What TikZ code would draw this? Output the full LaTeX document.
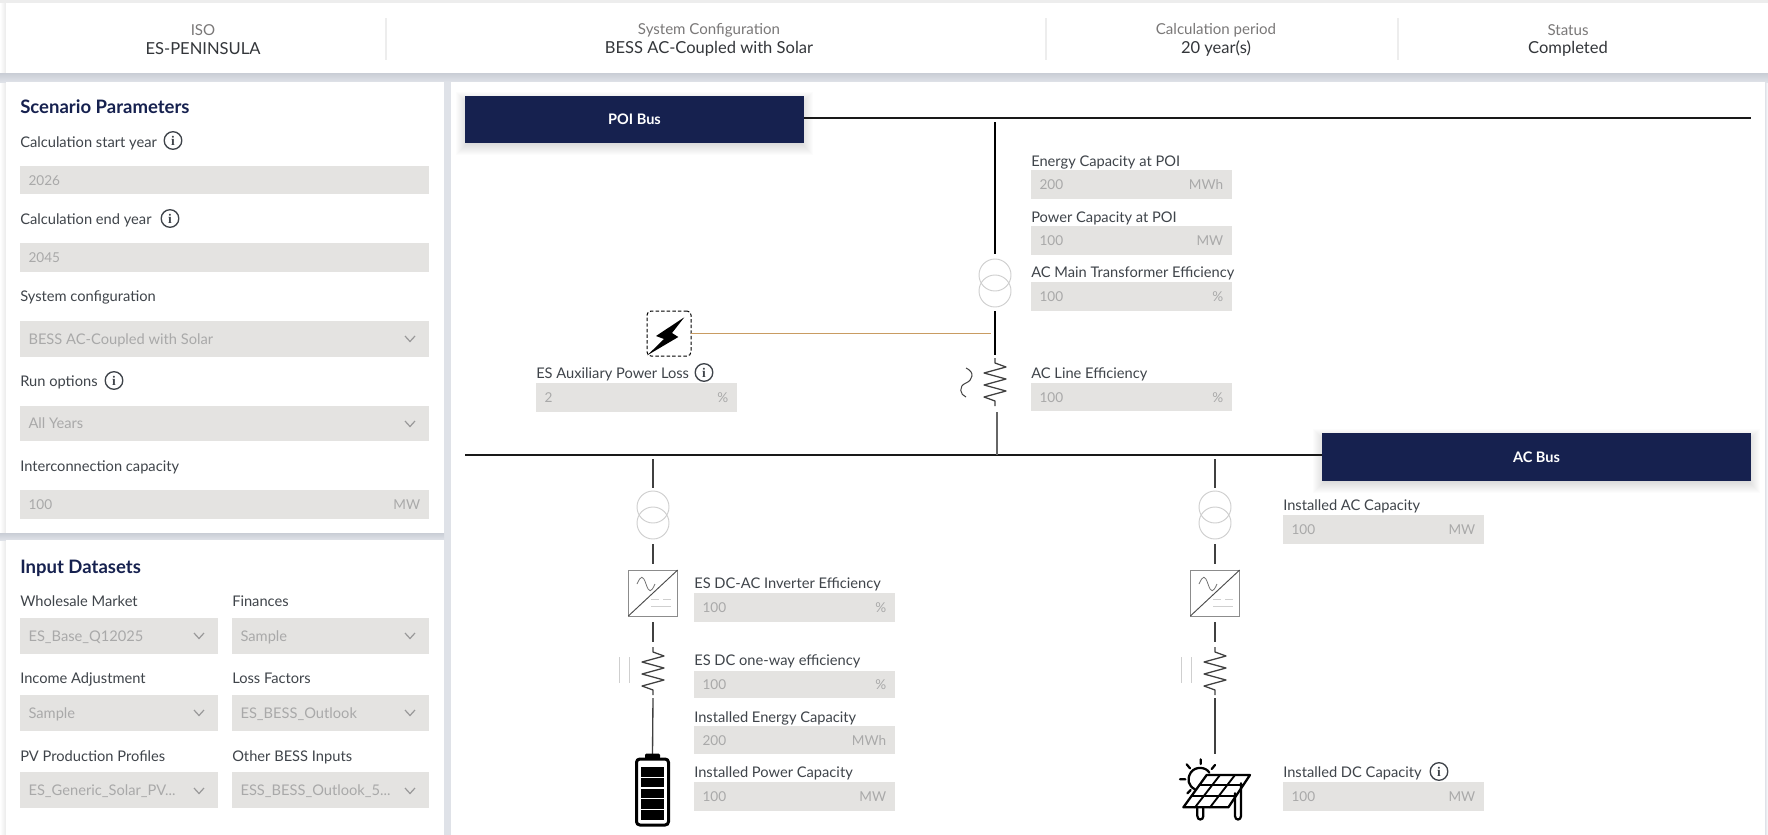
\documentclass[tikz,border=0pt]{standalone}
\usepackage{fontspec}
\setmainfont{Lato}
\definecolor{navy}{HTML}{16214F}
\definecolor{fieldbg}{HTML}{E4E3E1}
\definecolor{fieldfg}{HTML}{A9A9A9}
\definecolor{labelfg}{HTML}{3F444A}
\definecolor{headfg}{HTML}{7A7878}
\definecolor{valfg}{HTML}{33363A}
\definecolor{gapbg}{HTML}{DFE2E8}
\definecolor{shadowbg}{HTML}{C9CDD5}
\definecolor{sepc}{HTML}{EDEDED}
\definecolor{txc}{HTML}{CFCFCF}
\definecolor{auxc}{HTML}{C99C62}
\definecolor{wirec}{HTML}{404040}
\tikzset{
  x=0.75pt,y=-0.75pt,
  fieldstyle/.style={fill=fieldbg,draw=none,inner sep=0pt,outer sep=0pt},
  fieldtxt/.style={font=\fontsize{10.2pt}{12pt}\selectfont,text=fieldfg,inner sep=0pt,text height=7.6pt,text depth=0pt},
  droptxt/.style={fieldtxt,font=\fontsize{11pt}{12pt}\selectfont},
  lblstyle/.style={font=\fontsize{11pt}{13pt}\selectfont,text=labelfg,inner sep=0pt,anchor=west,text height=8.2pt,text depth=2.2pt},
  titlestyle/.style={font=\fontsize{13.9pt}{15pt}\selectfont\bfseries,text=navy,inner sep=0pt,anchor=west,text height=9.6pt,text depth=0pt},
  headlbl/.style={font=\fontsize{11.3pt}{13pt}\selectfont,text=headfg,inner sep=0pt},
  headval/.style={font=\fontsize{12.4pt}{14pt}\selectfont,text=valfg,inner sep=0pt},
  busstyle/.style={fill=navy,text=white,inner sep=0pt,outer sep=0pt,font=\fontsize{10.9pt}{13pt}\selectfont\bfseries},
  infostyle/.style={circle,draw=labelfg,line width=1pt,minimum size=13.2pt,inner sep=0pt,text=labelfg,font=\fontsize{10pt}{10pt}\selectfont\bfseries},
  txcircle/.style={circle,draw=txc,line width=0.7pt,minimum size=24pt,inner sep=0pt,outer sep=0pt},
  wire/.style={draw=wirec,line width=0.8pt},
  buswire/.style={draw=black!90,line width=1.5pt},
  symline/.style={draw=black!75,line width=0.95pt},
  lightline/.style={draw=txc,line width=0.75pt},
  chevstyle/.style={draw=black!40,line width=0.9pt},
  solarline/.style={draw=black,line width=1.7pt,line cap=round,line join=round},
  solarthin/.style={solarline,line width=1.4pt},
}
\newfontfamily\serifinfo{Liberation Serif}
\newcommand{\softshadow}[4]{%
  \foreach \sh in {1,...,12}{\fill[black,opacity=0.011] ({#1-\sh+3},{#2-\sh+8}) rectangle ({#3+\sh-3},{#4+\sh});}}
\newcommand{\fldbase}[5]{%
  \node[fieldstyle,minimum width={(#4-#2)*0.75pt},minimum height={(#5-#3)*0.75pt}] (#1) at ({(#2+#4)/2},{(#3+#5)/2}) {};}
\newcommand{\fld}[6]{% name x1 y1 x2 y2 value
  \fldbase{#1}{#2}{#3}{#4}{#5}
  \node[fieldtxt,anchor=west] (#1val) at ([xshift=6.2pt]#1.west) {#6};}
\newcommand{\drop}[6]{% name x1 y1 x2 y2 value
  \fldbase{#1}{#2}{#3}{#4}{#5}
  \node[droptxt,anchor=west] (#1val) at ([xshift=6.2pt]#1.west) {#6};}
\newcommand{\unit}[2]{\node[fieldtxt,anchor=east] (#1unit) at ([xshift=-6.4pt]#1.east) {#2};}
\newcommand{\chev}[2]{\draw[chevstyle] ({#1-5},{#2-3}) -- (#1,{#2+2.5}) -- ({#1+5},{#2-3});}
\newcommand{\flbl}[4]{\node[lblstyle] (#1) at (#2,{#3+1.5}) {#4};}
\newcommand{\info}[3]{\node[infostyle] (#1) at (#2,#3) {\serifinfo i};}
\newcommand{\resis}[2]{\draw[symline,shift={(#1,#2)},line join=round]
  (0,0) -- (0,5) -- (11,9) -- (-11,15) -- (11,21) -- (-11,27) -- (11,33) -- (-11,39) -- (0,43) -- (0,48);}
\newcommand{\invt}[3]{% name cx top
  \node[draw=black!45,line width=0.7pt,minimum width=37pt,minimum height=34.5pt,inner sep=0pt,outer sep=0pt] (#1) at (#2,{#3+23}) {};
  \draw[draw=black!70,line width=0.7pt] (#1.south west) -- (#1.north east);
  \draw[draw=black!55,line width=0.6pt] ({#2-16},{#3+14}) .. controls ({#2-12},{#3+5}) and ({#2-10},{#3+5}) .. ({#2-7},{#3+14}) .. controls ({#2-4},{#3+23}) and ({#2-2},{#3+23}) .. ({#2+2},{#3+14});
  \draw[lightline,line width=0.6pt] ({#2-2},{#3+29}) -- ({#2+6},{#3+29}) ({#2+10},{#3+29}) -- ({#2+18},{#3+29});
  \draw[lightline,line width=0.6pt] ({#2-2},{#3+36}) -- ({#2+18},{#3+36});}
\newcommand{\dblbar}[2]{\draw[lightline] (#1,#2) -- (#1,{#2+26}) ({#1+10},#2) -- ({#1+10},{#2+26});}
\begin{document}
\begin{tikzpicture}
\useasboundingbox (0,0) rectangle (1768,835);
\clip (0,0) rectangle (1768,835);
% page
\fill[white] (0,0) rectangle (1768,835);
\fill[black!7] (0,0) rectangle (1768,3);
\shade[left color=white,right color=black!8] (0,3) rectangle (6,835);
\fill[gapbg] (444,82) rectangle (451,835);
\shade[left color=gapbg,right color=white] (1765,73) rectangle (1768,835);
\shade[top color=shadowbg,bottom color=gapbg] (0,73) rectangle (1768,82);
\fill[white] (6,3) rectangle (1765,73);
\fill[white] (6,82) rectangle (444,533);
\shade[top color=shadowbg,bottom color=gapbg] (0,533) rectangle (444,540);
\fill[white] (6,540) rectangle (444,835);
\fill[white] (451,82) rectangle (1765,835);
% header
\foreach \sx in {386,1046,1398}{\draw[sepc,line width=0.8pt] (\sx,18) -- (\sx,60);}
\node[headlbl] (h1) at (203,30) {ISO};
\node[headval] (v1) at (203,49) {ES-PENINSULA};
\node[headlbl] (h2) at (709,30) {System Configuration};
\node[headval] (v2) at (709,49) {BESS AC-Coupled with Solar};
\node[headlbl] (h3) at (1216,30) {Calculation period};
\node[headval] (v3) at (1216,49) {20 year(s)};
\node[headlbl] (h4) at (1568,30) {Status};
\node[headval] (v4) at (1568,49) {Completed};
% scenario parameters
\node[titlestyle] (tScen) at (20,107) {Scenario Parameters};
\flbl{lStart}{20}{142}{Calculation start year}\info{iStart}{173}{140.5}
\fld{fStart}{20}{166}{429}{194}{2026}
\flbl{lEnd}{20}{219}{Calculation end year}\info{iEnd}{170}{218.5}
\fld{fEnd}{20}{243}{429}{272}{2045}
\flbl{lSys}{20}{296}{System configuration}
\drop{fSys}{20}{321}{429}{357}{BESS AC-Coupled with Solar}\chev{410}{339}
\flbl{lRun}{20}{381}{Run options}\info{iRun}{114}{380.5}
\drop{fRun}{20}{406}{429}{441}{All Years}\chev{410}{424}
\flbl{lInt}{20}{466}{Interconnection capacity}
\fld{fInt}{20}{490}{429}{519}{100}\unit{fInt}{MW}
% input datasets
\node[titlestyle] (tInp) at (20,567) {Input Datasets};
\flbl{lWm}{20}{601}{Wholesale Market}
\drop{fWm}{20}{618}{218}{654}{ES\_Base\_Q12025}\chev{199}{636}
\flbl{lFin}{232}{601}{Finances}
\drop{fFin}{232}{618}{429}{654}{Sample}\chev{410}{636}
\flbl{lInc}{20}{678}{Income Adjustment}
\drop{fInc}{20}{695}{218}{731}{Sample}\chev{199}{713}
\flbl{lLoss}{232}{678}{Loss Factors}
\drop{fLoss}{232}{695}{429}{731}{ES\_BESS\_Outlook}\chev{410}{713}
\flbl{lPv}{20}{756}{PV Production Profiles}
\drop{fPv}{20}{772}{218}{808}{ES\_Generic\_Solar\_PV...}\chev{199}{791}
\flbl{lOth}{232}{756}{Other BESS Inputs}
\drop{fOth}{232}{772}{429}{808}{ESS\_BESS\_Outlook\_5...}\chev{410}{791}
% buses
\softshadow{465}{96}{804}{143}
\softshadow{1322}{433}{1751}{481}
\node[busstyle,minimum width=254.25pt,minimum height=35.25pt] (poi) at (634.5,119.5) {POI Bus};
\node[busstyle,minimum width=321.75pt,minimum height=36pt] (acbus) at (1536.5,457) {AC Bus};
\coordinate (poiEnd) at (1751,118);
\coordinate (acStart) at (465,455);
\draw[buswire] (poi.east |- poiEnd) -- (poiEnd);
\draw[buswire] (acStart) -- (acbus.west |- acStart);
% main column
\coordinate (mTop) at (995,122);
\node[txcircle] (txMa) at (995,275) {};
\node[txcircle] (txMb) at (995,291) {};
\coordinate (mMid) at (995,355);
\coordinate (mLow) at (997,412);
\coordinate (mBus) at (997,455);
\draw[wire,draw=black] (mTop) -- ([yshift=3.75pt]txMa.north);
\draw[wire,draw=black] ([yshift=-3pt]txMb.south) -- (mMid);
\resis{995}{358}
\draw[wire,draw=black!60,line width=1.1pt] (mLow) -- (mBus);
\draw[symline,line width=0.75pt] (966,368) .. controls (975,372) and (973,380) .. (966,383) .. controls (958,386) and (960,395) .. (966,397);
% auxiliary
\node[draw=black,dash pattern=on 2.6pt off 1.6pt,line width=0.75pt,rounded corners=3pt,minimum width=33pt,minimum height=33.75pt,inner sep=0pt,outer sep=0pt] (aux) at (669,333.5) {};
\fill[black] (684.3,317.3) -- (656,336) -- (664,339) -- (647.3,355.3) -- (678.3,337) -- (672,333) -- cycle;
\coordinate (auxEnd) at (991,333);
\draw[auxc,line width=0.7pt] (aux.east |- auxEnd) -- (auxEnd);
\flbl{lAux}{536}{373}{ES Auxiliary Power Loss}\info{iAux}{704}{372.5}
\fld{fAux}{536}{383}{737}{412}{2}\unit{fAux}{\%}
% main fields
\flbl{lEc}{1031}{161}{Energy Capacity at POI}
\fld{fEc}{1031}{170}{1232}{199}{200}\unit{fEc}{MWh}
\flbl{lPc}{1031}{217}{Power Capacity at POI}
\fld{fPc}{1031}{226}{1232}{255}{100}\unit{fPc}{MW}
\flbl{lMt}{1031}{272}{AC Main Transformer Efficiency}
\fld{fMt}{1031}{282}{1232}{311}{100}\unit{fMt}{\%}
\flbl{lLn}{1031}{373}{AC Line Efficiency}
\fld{fLn}{1031}{383}{1232}{411}{100}\unit{fLn}{\%}
% left branch
\coordinate (lTop) at (653,459);
\node[txcircle] (txLa) at (653,507) {};
\node[txcircle] (txLb) at (653,523) {};
\invt{invL}{653}{570}
\coordinate (lResT) at (653,642);
\coordinate (lResB) at (653,698);
\node[draw=black,line width=2.25pt,rounded corners=2.5pt,minimum width=24pt,minimum height=49.5pt,inner sep=0pt,outer sep=0pt] (batt) at (652.5,792) {};
\draw[wire] (lTop) -- ([yshift=2.25pt]txLa.north);
\draw[wire] ([yshift=-3.75pt]txLb.south) -- ([yshift=4.5pt]invL.north);
\draw[wire] ([yshift=-4.5pt]invL.south) -- (lResT);
\resis{653}{647}
\dblbar{619}{657}
\draw[wire,line width=1pt] (lResB) -- ([yshift=3pt]batt.north);
\fill[black,rounded corners=1pt] (645,753.5) rectangle (660,759);
\foreach \by in {767,777.8,788.6,799.4,810.2}{\fill[black] (641,\by) rectangle (664,{\by+9.6});}
\flbl{lInv}{694}{583}{ES DC-AC Inverter Efficiency}
\fld{fInv}{694}{593}{895}{622}{100}\unit{fInv}{\%}
\flbl{lOne}{694}{660}{ES DC one-way efficiency}
\fld{fOne}{694}{671}{895}{698}{100}\unit{fOne}{\%}
\flbl{lIe}{694}{717}{Installed Energy Capacity}
\fld{fIe}{694}{726}{895}{754}{200}\unit{fIe}{MWh}
\flbl{lIp}{694}{772}{Installed Power Capacity}
\fld{fIp}{694}{782}{895}{811}{100}\unit{fIp}{MW}
% right branch
\coordinate (rTop) at (1215,459);
\node[txcircle] (txRa) at (1215,507) {};
\node[txcircle] (txRb) at (1215,523) {};
\invt{invR}{1215}{570}
\coordinate (rResT) at (1215,642);
\coordinate (rResB) at (1215,698);
\coordinate (rSol) at (1215,754);
\draw[wire] (rTop) -- ([yshift=2.25pt]txRa.north);
\draw[wire] ([yshift=-3.75pt]txRb.south) -- ([yshift=4.5pt]invR.north);
\draw[wire] ([yshift=-4.5pt]invR.south) -- (rResT);
\resis{1215}{647}
\dblbar{1181}{657}
\draw[wire] (rResB) -- (rSol);
% solar icon
\begin{scope}[shift={(1170,750)},x=0.25pt,y=-0.25pt]
 \draw[solarline] (110,75) -- (240,75) -- (175,172) -- (40,172) -- cycle;
 \draw[solarthin] (88,105) -- (220,105) (65,138) -- (198,138);
 \draw[solarthin] (150,75) -- (75,172) (195,75) -- (120,172);
 \draw[solarline] (118,68) .. controls (108,50) and (75,48) .. (62,68) .. controls (50,88) and (55,108) .. (75,118);
 \draw[solarline] (92,28) -- (92,42) (50,43) -- (60,55) (135,45) -- (125,57) (30,88) -- (46,88) (52,130) -- (62,120);
 \draw[solarline] (82,172) -- (82,198) .. controls (82,212) and (100,212) .. (100,198) -- (100,172);
 \draw[solarline] (195,130) -- (195,198) .. controls (195,212) and (213,212) .. (213,198) -- (213,100);
\end{scope}
\flbl{lAc}{1283}{505}{Installed AC Capacity}
\fld{fAc}{1283}{515}{1484}{544}{100}\unit{fAc}{MW}
\flbl{lDc}{1283}{772}{Installed DC Capacity}\info{iDc}{1439}{771.5}
\fld{fDc}{1283}{782}{1484}{811}{100}\unit{fDc}{MW}
\end{tikzpicture}
\end{document}
